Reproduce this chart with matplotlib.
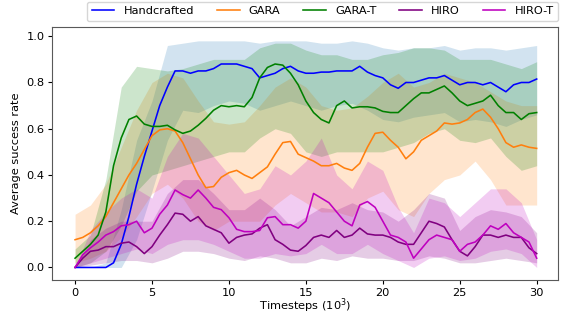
import numpy as np
import matplotlib
matplotlib.use("Agg")
import matplotlib.pyplot as plt

# mean curves sampled every 0.5 (x 10^3 timesteps)
t_mean = np.arange(0, 30.01, 0.5)
hand_mean = [0, 0, 0, 0, 0, 0.02, 0.10, 0.22, 0.36, 0.48, 0.59, 0.70, 0.78, 0.85, 0.85, 0.84,
             0.85, 0.85, 0.86, 0.88, 0.88, 0.88, 0.87, 0.86, 0.82, 0.83, 0.84, 0.86, 0.87, 0.85,
             0.84, 0.84, 0.845, 0.845, 0.85, 0.85, 0.85, 0.87, 0.845, 0.83, 0.82, 0.79, 0.775,
             0.80, 0.80, 0.81, 0.82, 0.82, 0.83, 0.81, 0.79, 0.80, 0.80, 0.79, 0.80, 0.78, 0.76,
             0.79, 0.80, 0.80, 0.815]
gara_mean = [0.12, 0.13, 0.15, 0.18, 0.22, 0.28, 0.34, 0.40, 0.45, 0.51, 0.57, 0.595, 0.60, 0.59,
             0.54, 0.47, 0.40, 0.345, 0.35, 0.39, 0.41, 0.42, 0.40, 0.385, 0.41, 0.435, 0.49, 0.54,
             0.545, 0.49, 0.475, 0.46, 0.44, 0.44, 0.45, 0.43, 0.42, 0.45, 0.52, 0.58, 0.585, 0.55,
             0.52, 0.47, 0.50, 0.55, 0.57, 0.59, 0.625, 0.62, 0.625, 0.64, 0.67, 0.685, 0.65, 0.60,
             0.54, 0.52, 0.53, 0.52, 0.515]
garat_mean = [0.04, 0.07, 0.10, 0.14, 0.24, 0.44, 0.56, 0.64, 0.655, 0.62, 0.61, 0.61, 0.615, 0.595,
              0.58, 0.59, 0.615, 0.645, 0.68, 0.70, 0.695, 0.70, 0.695, 0.735, 0.82, 0.865, 0.88,
              0.875, 0.84, 0.79, 0.72, 0.67, 0.64, 0.625, 0.70, 0.72, 0.69, 0.695, 0.695, 0.69,
              0.675, 0.67, 0.67, 0.70, 0.73, 0.755, 0.755, 0.77, 0.785, 0.755, 0.72, 0.70, 0.71,
              0.72, 0.745, 0.70, 0.67, 0.67, 0.64, 0.665, 0.67]
hiro_mean = [0, 0.04, 0.07, 0.075, 0.09, 0.09, 0.105, 0.11, 0.09, 0.06, 0.09, 0.14, 0.185, 0.235,
             0.23, 0.20, 0.22, 0.18, 0.165, 0.15, 0.105, 0.13, 0.14, 0.145, 0.17, 0.185, 0.12, 0.10,
             0.075, 0.07, 0.095, 0.13, 0.14, 0.13, 0.16, 0.13, 0.14, 0.17, 0.145, 0.14, 0.14, 0.13,
             0.11, 0.10, 0.10, 0.15, 0.20, 0.19, 0.175, 0.12, 0.07, 0.05, 0.09, 0.14, 0.14, 0.13,
             0.14, 0.13, 0.13, 0.085, 0.06]
hirot_mean = [0, 0.055, 0.085, 0.11, 0.14, 0.155, 0.18, 0.185, 0.20, 0.15, 0.17, 0.23, 0.27, 0.335,
              0.315, 0.30, 0.335, 0.30, 0.26, 0.25, 0.215, 0.165, 0.155, 0.155, 0.16, 0.215, 0.22,
              0.185, 0.185, 0.17, 0.20, 0.32, 0.30, 0.28, 0.24, 0.20, 0.18, 0.27, 0.285, 0.26, 0.20,
              0.14, 0.13, 0.11, 0.04, 0.08, 0.12, 0.14, 0.13, 0.12, 0.07, 0.10, 0.11, 0.14, 0.18,
              0.165, 0.19, 0.15, 0.13, 0.11, 0.04]

# shaded bands sampled every 1
t_band = np.arange(0, 31)
hand_lo = [0, 0, 0, 0, 0.12, 0.33, 0.55, 0.68, 0.67, 0.70, 0.72, 0.71, 0.68, 0.70, 0.72, 0.70,
           0.68, 0.70, 0.71, 0.68, 0.64, 0.63, 0.65, 0.66, 0.67, 0.63, 0.64, 0.63, 0.61, 0.64, 0.66]
hand_hi = [0, 0, 0.02, 0.25, 0.55, 0.72, 0.96, 0.97, 0.98, 0.98, 0.98, 0.98, 0.97, 0.98, 0.98, 0.98,
           0.97, 0.97, 0.98, 0.97, 0.95, 0.94, 0.95, 0.95, 0.96, 0.94, 0.95, 0.95, 0.94, 0.95, 0.96]
gara_lo = [0.02, 0.04, 0.07, 0.13, 0.22, 0.32, 0.36, 0.30, 0.20, 0.16, 0.20, 0.20, 0.20, 0.27, 0.32,
           0.28, 0.24, 0.24, 0.22, 0.30, 0.33, 0.25, 0.22, 0.32, 0.38, 0.40, 0.46, 0.38, 0.27, 0.27, 0.27]
gara_hi = [0.23, 0.27, 0.36, 0.52, 0.68, 0.80, 0.84, 0.82, 0.72, 0.63, 0.62, 0.63, 0.70, 0.78, 0.82,
           0.78, 0.70, 0.68, 0.69, 0.74, 0.80, 0.84, 0.78, 0.80, 0.84, 0.82, 0.80, 0.76, 0.72, 0.70, 0.70]
garat_lo = [0, 0.02, 0.07, 0.18, 0.33, 0.40, 0.42, 0.44, 0.46, 0.48, 0.50, 0.50, 0.56, 0.60, 0.58,
            0.50, 0.48, 0.50, 0.50, 0.50, 0.50, 0.52, 0.54, 0.58, 0.60, 0.55, 0.54, 0.56, 0.48, 0.42, 0.44]
garat_hi = [0.08, 0.14, 0.38, 0.78, 0.87, 0.86, 0.85, 0.86, 0.88, 0.90, 0.90, 0.90, 0.95, 0.97, 0.97,
            0.94, 0.92, 0.92, 0.90, 0.90, 0.92, 0.93, 0.95, 0.95, 0.94, 0.90, 0.90, 0.90, 0.88, 0.86, 0.89]
hiro_lo = [0, 0.01, 0.02, 0.03, 0.03, 0.02, 0.04, 0.07, 0.07, 0.06, 0.04, 0.03, 0.05, 0.04, 0.02,
           0.02, 0.04, 0.03, 0.05, 0.04, 0.04, 0.03, 0.03, 0.05, 0.04, 0.02, 0.02, 0.03, 0.04, 0.03, 0.02]
hiro_hi = [0, 0.12, 0.17, 0.20, 0.20, 0.20, 0.32, 0.38, 0.38, 0.32, 0.25, 0.25, 0.30, 0.25, 0.18,
           0.22, 0.26, 0.25, 0.28, 0.25, 0.24, 0.20, 0.25, 0.32, 0.30, 0.16, 0.22, 0.25, 0.24, 0.22, 0.15]
hirot_lo = [0, 0.02, 0.04, 0.06, 0.08, 0.06, 0.10, 0.12, 0.12, 0.10, 0.07, 0.04, 0.04, 0.06, 0.05,
            0.06, 0.10, 0.06, 0.06, 0.10, 0.06, 0.03, 0.0, 0.04, 0.05, 0.03, 0.04, 0.07, 0.08, 0.06, 0.0]
hirot_hi = [0, 0.16, 0.24, 0.30, 0.34, 0.30, 0.48, 0.58, 0.56, 0.48, 0.40, 0.32, 0.34, 0.44, 0.40,
            0.46, 0.56, 0.40, 0.34, 0.46, 0.42, 0.26, 0.15, 0.30, 0.28, 0.22, 0.28, 0.34, 0.34, 0.28, 0.12]

labels = ['Handcrafted', 'GARA', 'GARA-T', 'HIRO', 'HIRO-T']
colors = ['blue', 'tab:orange', 'green', 'purple', 'm']
band_colors = ['tab:blue', 'tab:orange', 'green', 'purple', 'm']
means = [hand_mean, gara_mean, garat_mean, hiro_mean, hirot_mean]
lows = [hand_lo, gara_lo, garat_lo, hiro_lo, hirot_lo]
highs = [hand_hi, gara_hi, garat_hi, hiro_hi, hirot_hi]

plt.rcParams['font.size'] = 8.2

fig = plt.figure(figsize=(5.65, 3.14), dpi=100)
ax = fig.add_axes([0.092, 0.107, 0.896, 0.807])

for lo, hi, c in zip(lows, highs, band_colors):
    ax.fill_between(t_band, lo, hi, color=c, alpha=0.2, linewidth=0)
for m, c, lab in zip(means, colors, labels):
    ax.plot(t_mean, m, color=c, linewidth=1.15, label=lab)

ax.set_xlim(-1.5, 31.4)
ax.set_ylim(-0.056, 1.04)
ax.set_xticks([0, 5, 10, 15, 20, 25, 30])
ax.set_yticks([0.0, 0.2, 0.4, 0.6, 0.8, 1.0])
ax.tick_params(length=2.8, pad=2.5)
ax.set_xlabel("Timesteps ($10^3$)", labelpad=-1)
ax.set_ylabel("Average success rate", labelpad=4)
for s in ax.spines.values():
    s.set_color('0.35')

fig.legend(loc='upper center', bbox_to_anchor=(0.571, 1.0), ncol=5, fontsize=8.2,
           handlelength=2.0, columnspacing=2.0, borderaxespad=0.15)

fig.savefig("out.png", dpi=100)
